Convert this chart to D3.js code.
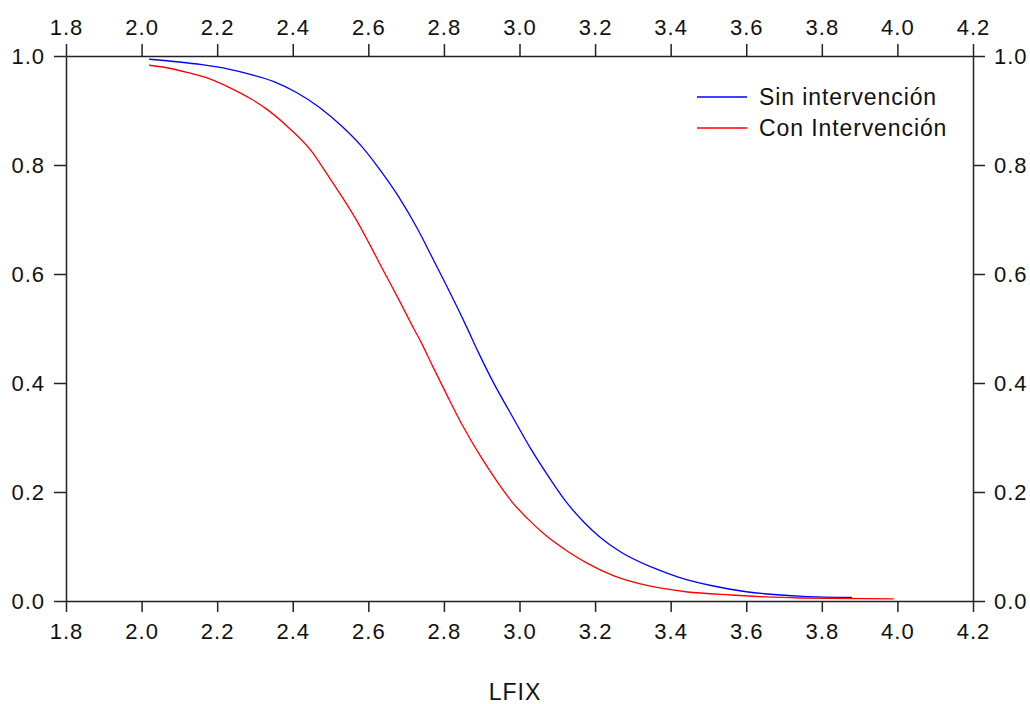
<!DOCTYPE html>
<html>
<head>
<meta charset="utf-8">
<script src="https://cdn.jsdelivr.net/npm/d3@7"></script>
<style>
  html, body { margin: 0; padding: 0; background: #fff; }
  svg { display: block; }
  text { font-family: "Liberation Sans", Arial, sans-serif; fill: #111; }
</style>
</head>
<body>
<svg id="chart" width="1030" height="704"></svg>
<script>
// ---- data ----
const xTicks = [1.8, 2.0, 2.2, 2.4, 2.6, 2.8, 3.0, 3.2, 3.4, 3.6, 3.8, 4.0, 4.2];
const yTicks = [0.0, 0.2, 0.4, 0.6, 0.8, 1.0];
const xTitle = "LFIX";
const seriesNames = ["Sin intervención", "Con Intervención"];
const seriesColors = ["#0000ff", "#ff0000"];

const sinX = [2.02, 2.10, 2.16, 2.23, 2.29, 2.35, 2.41, 2.47, 2.53, 2.58, 2.63, 2.68, 2.73, 2.77, 2.80, 2.84, 2.86, 2.89, 2.93, 2.98, 3.03, 3.08, 3.12, 3.17, 3.21, 3.27, 3.35, 3.42, 3.51, 3.60, 3.69, 3.75, 3.88];
const sinY = [0.994, 0.989, 0.984, 0.976, 0.966, 0.953, 0.933, 0.906, 0.871, 0.836, 0.792, 0.742, 0.683, 0.629, 0.588, 0.532, 0.503, 0.458, 0.402, 0.340, 0.279, 0.225, 0.185, 0.145, 0.119, 0.089, 0.062, 0.044, 0.028, 0.017, 0.011, 0.0085, 0.0065];

const conX = [2.02, 2.07, 2.12, 2.18, 2.23, 2.29, 2.33, 2.39, 2.45, 2.49, 2.53, 2.57, 2.60, 2.64, 2.68, 2.72, 2.74, 2.77, 2.81, 2.85, 2.90, 2.94, 2.98, 3.02, 3.07, 3.13, 3.18, 3.25, 3.34, 3.44, 3.56, 3.74, 3.99];
const conY = [0.983, 0.978, 0.970, 0.958, 0.943, 0.921, 0.903, 0.868, 0.825, 0.784, 0.742, 0.697, 0.659, 0.606, 0.554, 0.500, 0.474, 0.431, 0.375, 0.321, 0.262, 0.220, 0.182, 0.152, 0.120, 0.090, 0.069, 0.046, 0.028, 0.017, 0.011, 0.0055, 0.004];

// ---- layout ----
const L = 66, R = 973, T = 56, B = 601;
const svg = d3.select("#chart");
const x = d3.scaleLinear().domain([1.8, 4.2]).range([L, R]);
const y = d3.scaleLinear().domain([0, 1]).range([B, T]);
const fmt = d3.format(".1f");
const tickFont = 22;

function styleAxis(g) {
  g.selectAll("path, line").attr("stroke", "#222").attr("stroke-width", 1.5);
  g.selectAll("text").style("font-size", tickFont + "px").attr("fill", "#111")
    .style("letter-spacing", "1px")
    .style("font-family", '"Liberation Sans", Arial, sans-serif');
}

svg.append("g").attr("transform", `translate(0,${B})`)
  .call(d3.axisBottom(x).tickValues(xTicks).tickFormat(fmt).tickSize(11).tickSizeOuter(0).tickPadding(11))
  .call(styleAxis);
svg.append("g").attr("transform", `translate(0,${T})`)
  .call(d3.axisTop(x).tickValues(xTicks).tickFormat(fmt).tickSize(12).tickSizeOuter(0).tickPadding(9))
  .call(styleAxis);
svg.append("g").attr("transform", `translate(${L},0)`)
  .call(d3.axisLeft(y).tickValues(yTicks).tickFormat(fmt).tickSize(12).tickSizeOuter(0).tickPadding(9))
  .call(styleAxis);
svg.append("g").attr("transform", `translate(${R},0)`)
  .call(d3.axisRight(y).tickValues(yTicks).tickFormat(fmt).tickSize(12).tickSizeOuter(0).tickPadding(9))
  .call(styleAxis);

// ---- lines ----
const line = d3.line().x(d => x(d[0])).y(d => y(d[1])).curve(d3.curveMonotoneX);
const series = [
  d3.zip(sinX, sinY),
  d3.zip(conX, conY)
];
series.forEach((s, i) => {
  svg.append("path").datum(s)
    .attr("fill", "none")
    .attr("stroke", seriesColors[i])
    .attr("stroke-width", 1.3)
    .attr("d", line);
});

// ---- legend ----
const legY = [97, 128];
seriesNames.forEach((name, i) => {
  svg.append("line")
    .attr("x1", 697).attr("x2", 747)
    .attr("y1", legY[i]).attr("y2", legY[i])
    .attr("stroke", seriesColors[i]).attr("stroke-width", 1.3);
  svg.append("text")
    .attr("x", 759).attr("y", legY[i])
    .attr("dy", "0.35em")
    .style("font-size", "23px")
    .style("letter-spacing", "0.9px")
    .text(name);
});

// ---- axis title ----
svg.append("text")
  .attr("x", 515).attr("y", 692)
  .attr("dy", "0.35em")
  .attr("text-anchor", "middle")
  .style("font-size", "23px")
  .style("letter-spacing", "1px")
  .text(xTitle);
</script>
</body>
</html>
